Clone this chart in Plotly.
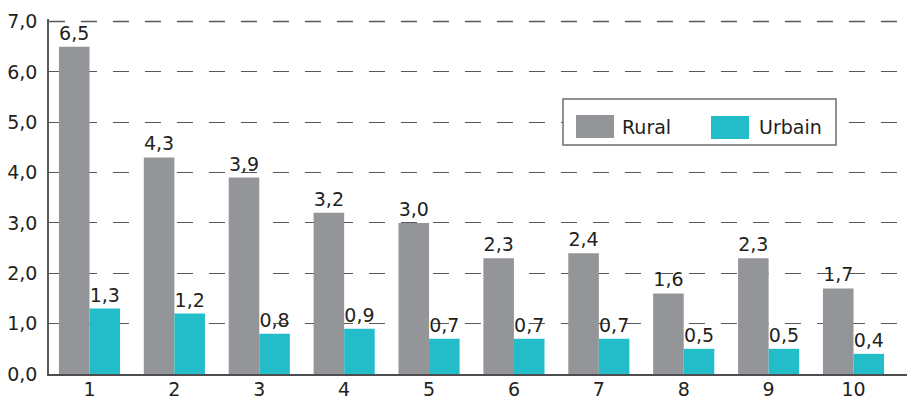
import plotly.graph_objects as go

# Data
categories = [1, 2, 3, 4, 5, 6, 7, 8, 9, 10]
rural = [6.5, 4.3, 3.9, 3.2, 3.0, 2.3, 2.4, 1.6, 2.3, 1.7]
urbain = [1.3, 1.2, 0.8, 0.9, 0.7, 0.7, 0.7, 0.5, 0.5, 0.4]
y_ticks = [0, 1, 2, 3, 4, 5, 6, 7]

GRAY = "#939598"
TEAL = "#22bdc9"
INK = "#231f20"
GRID = "#58595b"
FONT = "DejaVu Sans, Liberation Sans, Arial, sans-serif"
FS = 19

W, H = 907, 397
ML, MR, MT, MB = 49, 0, 19, 23


def px_x(px):
    return (px - ML) / (W - ML - MR)


def px_y(py):
    return 1 - (py - MT) / (H - MT - MB)


fig = go.Figure()
fig.add_trace(go.Bar(
    x=categories, y=rural, name="Rural", marker_color=GRAY,
    marker_line_width=0, texttemplate="%{y:.1f}", textposition="outside",
    textfont=dict(size=FS, color=INK), cliponaxis=False, constraintext="none",
))
fig.add_trace(go.Bar(
    x=categories, y=urbain, name="Urbain", marker_color=TEAL,
    marker_line_width=0, texttemplate="%{y:.1f}", textposition="outside",
    textfont=dict(size=FS, color=INK), cliponaxis=False, constraintext="none",
))

shapes = [
    # top dashed rule at the highest tick
    dict(type="line", xref="paper", yref="y", x0=0, x1=1,
         y0=y_ticks[-1], y1=y_ticks[-1],
         line=dict(color=GRID, width=1.3, dash="16px,16px"), layer="below"),
    # legend frame and swatches
    dict(type="rect", xref="paper", yref="paper",
         x0=px_x(563), x1=px_x(836), y0=px_y(145), y1=px_y(99),
         line=dict(color="#6d6e71", width=1.5), fillcolor="white", layer="above"),
    dict(type="rect", xref="paper", yref="paper",
         x0=px_x(576), x1=px_x(614), y0=px_y(138), y1=px_y(115),
         line=dict(width=0), fillcolor=GRAY, layer="above"),
    dict(type="rect", xref="paper", yref="paper",
         x0=px_x(711), x1=px_x(749), y0=px_y(139), y1=px_y(116),
         line=dict(width=0), fillcolor=TEAL, layer="above"),
]
annotations = [
    dict(xref="paper", yref="paper", x=px_x(620), y=px_y(127), text="Rural",
         showarrow=False, xanchor="left", yanchor="middle",
         font=dict(size=FS, color=INK, family=FONT)),
    dict(xref="paper", yref="paper", x=px_x(757), y=px_y(127), text="Urbain",
         showarrow=False, xanchor="left", yanchor="middle",
         font=dict(size=FS, color=INK, family=FONT)),
]

fig.update_layout(
    width=W, height=H,
    margin=dict(l=ML, r=MR, t=MT, b=MB, pad=0),
    paper_bgcolor="white", plot_bgcolor="white",
    barmode="group", bargap=0.28, bargroupgap=0,
    separators=",.",
    showlegend=False,
    font=dict(family=FONT, size=FS, color=INK),
    shapes=shapes, annotations=annotations,
    xaxis=dict(
        range=[0.523, 10.63], tickmode="array", tickvals=categories,
        ticktext=[str(c) for c in categories], showgrid=False,
        showline=True, linecolor="#4d4d4f", linewidth=2,
        ticks="", ticklabelstandoff=-3, tickfont=dict(size=FS, color=INK),
        zeroline=False, automargin=False,
    ),
    yaxis=dict(
        range=[0, 7.05], tickmode="array", tickvals=y_ticks, tickformat=".1f",
        showgrid=True, gridcolor=GRID, gridwidth=1.3, griddash="16px,16px",
        showline=True, linecolor=GRID, linewidth=1.5,
        ticks="", ticklabelstandoff=6, tickfont=dict(size=FS, color=INK),
        zeroline=False, automargin=False,
    ),
)

fig.write_html("out.html")
